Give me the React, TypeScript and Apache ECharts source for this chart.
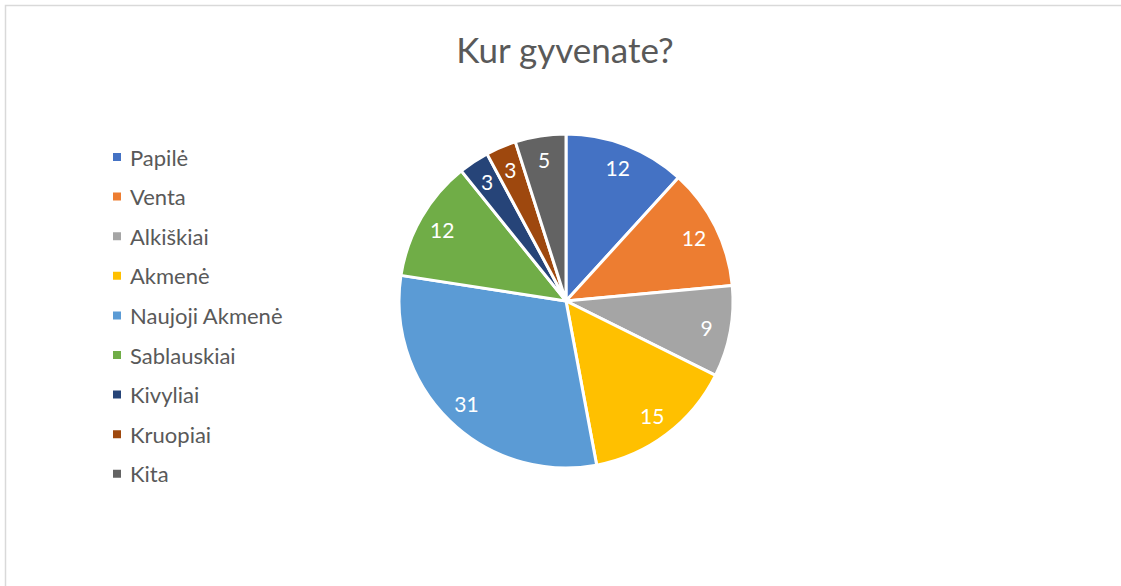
import React, { useEffect, useRef } from "react";
import * as echarts from "echarts";

const categories = ["Papilė", "Venta", "Alkiškiai", "Akmenė", "Naujoji Akmenė", "Sablauskiai", "Kivyliai", "Kruopiai", "Kita"];
const values = [12, 12, 9, 15, 31, 12, 3, 3, 5];
const colors = ["#4472C4", "#ED7D31", "#A5A5A5", "#FFC000", "#5B9BD5", "#70AD47", "#264478", "#9E480E", "#636363"];
const titleText = "Kur gyvenate?";

const FONT = "Lato, 'Open Sans', sans-serif";

export default function App() {
  const ref = useRef<HTMLDivElement>(null);
  useEffect(() => {
    if (!ref.current) return;
    const chart = echarts.init(ref.current, undefined, { renderer: "svg" });
    const data = categories.map((name, i) => ({ name, value: values[i], itemStyle: { color: colors[i] } }));
    const labelData = categories.map((name, i) => ({ name, value: values[i] }));
    chart.setOption({
      animation: false,
      backgroundColor: "#ffffff",
      title: {
        text: titleText,
        left: 560,
        textAlign: "center",
        top: 26,
        textStyle: { fontFamily: FONT, fontSize: 35, fontWeight: "normal", color: "#595959" },
      },
      legend: {
        orient: "vertical",
        left: 106,
        top: 141,
        itemWidth: 10,
        itemHeight: 10,
        itemGap: 17.6,
        icon: "rect",
        data: categories,
        textStyle: { fontFamily: FONT, fontSize: 22, color: "#595959", lineHeight: 22, padding: [0, 0, 0, 3] },
      },
      graphic: [
        {
          type: "rect",
          shape: { x: 5.5, y: 5.5, width: 1200, height: 700 },
          style: { fill: "none", stroke: "#d9d9d9", lineWidth: 1.5 },
          silent: true,
        },
      ],
      series: [
        {
          type: "pie",
          center: [566, 301],
          radius: [0, 167],
          startAngle: 90,
          clockwise: true,
          data,
          label: { show: false },
          labelLine: { show: false },
          itemStyle: { borderColor: "#ffffff", borderWidth: 3 },
          emphasis: { disabled: true },
        },
        {
          type: "pie",
          center: [566, 301],
          radius: [112, 168],
          startAngle: 90,
          clockwise: true,
          data: labelData,
          silent: true,
          itemStyle: { color: "rgba(0,0,0,0)" },
          label: { show: true, position: "inside", color: "#ffffff", fontFamily: FONT, fontSize: 21, formatter: "{c}" },
          labelLine: { show: false },
          emphasis: { disabled: true },
          legendHoverLink: false,
        },
      ],
    });
    return () => chart.dispose();
  }, []);
  return <div ref={ref} style={{ position: "fixed", left: 0, top: 0, width: 1121, height: 586 }} />;
}
